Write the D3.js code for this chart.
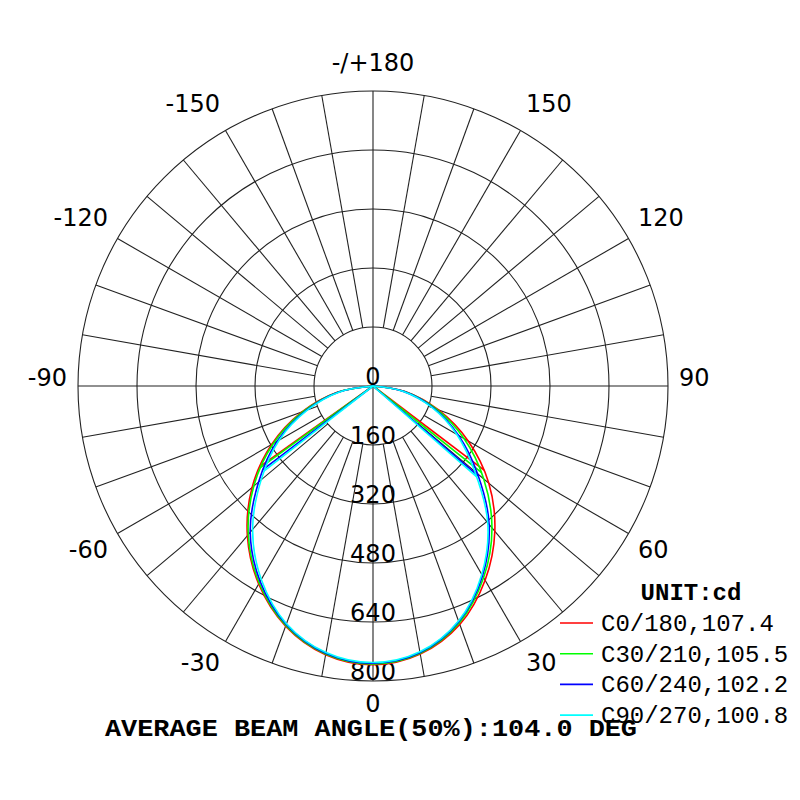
<!DOCTYPE html>
<html>
<head>
<meta charset="utf-8">
<script src="https://cdn.jsdelivr.net/npm/d3@7"></script>
<style>
  html, body { margin: 0; padding: 0; background: #fff; }
</style>
</head>
<body>
<div id="polar-chart"></div>
<script>
// gamma angles (deg) measured from the downward axis
const gammas = [0, 10, 20, 30, 40, 50, 60, 70, 80, 90];

// intensities (cd) for each C plane, right side / left side
const c0   = [756, 738, 688, 608, 514, 410, 298, 188, 90, 0];
const c180 = [756, 740, 693, 620, 530, 428, 318, 205, 100, 0];
const c30  = [754, 736, 684, 600, 502, 392, 285, 182, 87, 0];
const c210 = [754, 738, 691, 617, 526, 422, 312, 200, 97, 0];
const c60  = [752, 734, 680, 594, 490, 370, 268, 175, 84, 0];
const c240 = [752, 736, 688, 612, 518, 405, 300, 192, 94, 0];
const c90  = [750, 732, 678, 590, 484, 360, 262, 170, 82, 0];
const c270 = [750, 734, 686, 606, 508, 396, 294, 188, 92, 0];

const seriesNames = ["C0/180", "C30/210", "C60/240", "C90/270"];
const beamAngles = [107.4, 105.5, 102.2, 100.8];
const rightPlanes = [c0, c30, c60, c90];
const leftPlanes = [c180, c210, c240, c270];
const colors = ["#ff0000", "#00ff00", "#0000ff", "#00ffff"];

const ringValues = [160, 320, 480, 640, 800];
const angleTicks = [180, -150, -120, -90, -60, -30, 0, 30, 60, 90, 120, 150];
const angleLabels = ["-/+180", "-150", "-120", "-90", "-60", "-30", "0", "30", "60", "90", "120", "150"];

const width = 800, height = 800;
const cx = 373, cy = 386;

const svg = d3.select("#polar-chart")
    .append("svg")
    .attr("width", width)
    .attr("height", height);

const g = svg.append("g")
    .attr("transform", "translate(" + cx + "," + cy + ")");

const r = d3.scaleLinear().domain([0, 800]).range([0, 295]);
const toRad = d => d * Math.PI / 180;

// point for chart angle a (0 = down, + = right)
function pt(a, v) {
    return [r(v) * Math.sin(toRad(a)), r(v) * Math.cos(toRad(a))];
}

// rings
g.selectAll(".ring")
    .data(ringValues)
    .enter().append("circle")
    .attr("r", d => r(d))
    .attr("fill", "none")
    .attr("stroke", "#222")
    .attr("stroke-width", 1.1);

// spokes every 10 degrees, full lines for the axes
const spokes = d3.range(-170, 190, 10);
g.selectAll(".spoke")
    .data(spokes)
    .enter().append("line")
    .attr("x1", d => (d % 90 === 0 ? 0 : pt(d, ringValues[0])[0]))
    .attr("y1", d => (d % 90 === 0 ? 0 : pt(d, ringValues[0])[1]))
    .attr("x2", d => pt(d, 800)[0])
    .attr("y2", d => pt(d, 800)[1])
    .attr("stroke", "#222")
    .attr("stroke-width", 1.1);

// angle labels
const labelFont = "'DejaVu Sans', Verdana, sans-serif";
g.selectAll(".angle-label")
    .data(angleTicks)
    .enter().append("text")
    .attr("x", d => Math.sin(toRad(d)) * 306)
    .attr("y", d => {
        const c = Math.cos(toRad(d));
        return c * 309 + (c > 0.01 ? 17 : (c < -0.01 ? -6 : 0));
    })
    .attr("text-anchor", d => {
        const s = Math.sin(toRad(d));
        return s > 0.01 ? "start" : (s < -0.01 ? "end" : "middle");
    })
    .attr("font-family", labelFont)
    .attr("font-size", 24)
    .attr("fill", "#000")
    .text((d, i) => angleLabels[i]);

// ring value labels
g.selectAll(".ring-label")
    .data([0].concat(ringValues))
    .enter().append("text")
    .attr("x", 0)
    .attr("y", d => r(d) - 1)
    .attr("text-anchor", "middle")
    .attr("font-family", labelFont)
    .attr("font-size", 24)
    .attr("fill", "#000")
    .text(d => d);

// intensity curves
const line = d3.line()
    .x(d => d[0])
    .y(d => d[1])
    .curve(d3.curveCatmullRom.alpha(0.5));

function curvePoints(left, right) {
    const pts = [];
    for (let i = gammas.length - 1; i > 0; i--) pts.push(pt(-gammas[i], left[i]));
    for (let i = 0; i < gammas.length; i++) pts.push(pt(gammas[i], right[i]));
    return pts;
}

// point where the intensity falls to half of the peak
function halfPoint(values, peak, sign) {
    const half = peak / 2;
    for (let i = 1; i < values.length; i++) {
        if (values[i] <= half) {
            const t = (values[i - 1] - half) / (values[i - 1] - values[i]);
            const a = gammas[i - 1] + t * (gammas[i] - gammas[i - 1]);
            return pt(sign * a, half);
        }
    }
    return [0, 0];
}

for (let s = 0; s < seriesNames.length; s++) {
    const left = leftPlanes[s], right = rightPlanes[s];
    const peak = d3.max(left.concat(right));

    g.append("path")
        .datum(curvePoints(left, right))
        .attr("fill", "none")
        .attr("stroke", colors[s])
        .attr("stroke-width", 1.6)
        .attr("d", line);

    [halfPoint(left, peak, -1), halfPoint(right, peak, 1)].forEach(p => {
        g.append("line")
            .attr("x1", 0).attr("y1", 0)
            .attr("x2", p[0]).attr("y2", p[1])
            .attr("stroke", colors[s])
            .attr("stroke-width", 1.6);
    });
}

// legend
const monoFont = "'Courier New', 'Liberation Mono', monospace";
svg.append("text")
    .attr("x", 691)
    .attr("y", 600)
    .attr("text-anchor", "middle")
    .attr("font-family", monoFont)
    .attr("font-weight", "bold")
    .attr("font-size", 24)
    .text("UNIT:cd");

const legend = svg.selectAll(".legend")
    .data(seriesNames)
    .enter().append("g")
    .attr("transform", (d, i) => "translate(0," + (623 + i * 30.7) + ")");

legend.append("line")
    .attr("x1", 560).attr("x2", 593)
    .attr("y1", 0).attr("y2", 0)
    .attr("stroke", (d, i) => colors[i])
    .attr("stroke-width", 1.6);

legend.append("text")
    .attr("x", 601)
    .attr("y", 8)
    .attr("font-family", monoFont)
    .attr("font-size", 24)
    .text((d, i) => d + "," + beamAngles[i].toFixed(1));

// average beam angle
const avgBeam = d3.mean(beamAngles);
svg.append("text")
    .attr("x", 105)
    .attr("y", 736)
    .attr("font-family", monoFont)
    .attr("font-weight", "bold")
    .attr("font-size", 23)
    .attr("textLength", 532)
    .attr("lengthAdjust", "spacingAndGlyphs")
    .text("AVERAGE BEAM ANGLE(50%):" + avgBeam.toFixed(1) + " DEG");
</script>
</body>
</html>
